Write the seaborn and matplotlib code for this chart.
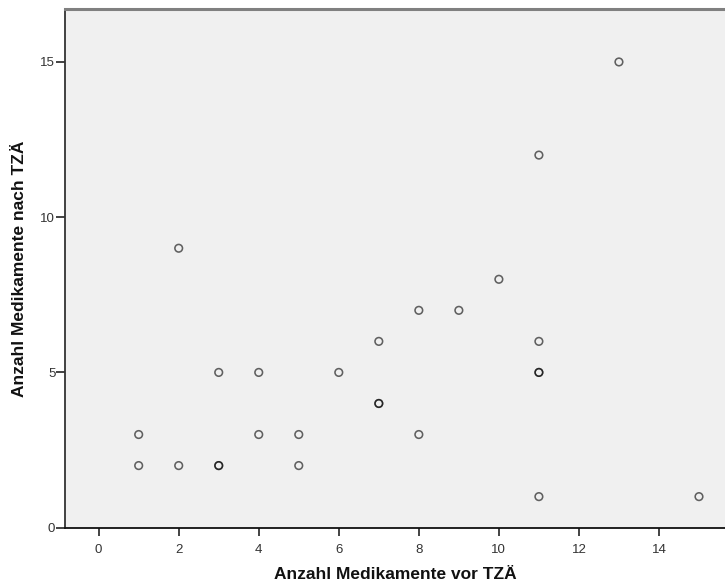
import matplotlib
matplotlib.use("Agg")
import matplotlib.pyplot as plt
import seaborn as sns
import pandas as pd

# Number of medications before and after (paired observations)
vor = [1, 1, 2, 2, 3, 3, 3, 4, 4, 5, 5, 6, 7, 7, 7, 8, 8, 9, 10, 11, 11, 11, 11, 11, 13, 15]
nach = [3, 2, 2, 9, 5, 2, 2, 5, 3, 3, 2, 5, 6, 4, 4, 7, 3, 7, 8, 12, 6, 5, 5, 1, 15, 1]

x_ticks = [0, 2, 4, 6, 8, 10, 12, 14]
y_ticks = [0, 5, 10, 15]

df = pd.DataFrame({"vor": vor, "nach": nach})

sns.set_style("white")
plt.rcParams["font.family"] = ["Liberation Sans", "DejaVu Sans"]

fig = plt.figure(figsize=(7.25, 5.85), dpi=100)
ax = fig.add_axes([0.0897, 0.098, 0.9103, 0.8858])
ax.set_facecolor("#f0f0f0")

sns.scatterplot(data=df, x="vor", y="nach", ax=ax, marker="o", s=30,
                facecolor="none", edgecolor=(0, 0, 0, 0.6),
                linewidth=1.15, legend=False)

ax.set_xlim(-0.84, 15.65)
ax.set_ylim(0, 16.69)
ax.set_xticks(x_ticks)
ax.set_yticks(y_ticks)
ax.tick_params(axis="both", direction="out", width=1.2, color="#222222",
               labelsize=9.5, labelcolor="#333333", left=True, bottom=True)
ax.tick_params(axis="y", length=6.5, pad=0.5)
ax.tick_params(axis="x", length=6, pad=5.5)

for side in ["left", "bottom"]:
    ax.spines[side].set_visible(True)
    ax.spines[side].set_linewidth(1.3)
ax.spines["left"].set_color("#333333")
ax.spines["bottom"].set_color("#111111")
ax.spines["top"].set_visible(True)
ax.spines["top"].set_color("#808080")
ax.spines["top"].set_linewidth(2.2)
ax.spines["right"].set_visible(False)

ax.set_xlabel("Anzahl Medikamente vor TZÄ", fontsize=12.5, fontweight="bold",
              color="#111111", labelpad=8)
ax.set_ylabel("Anzahl Medikamente nach TZÄ", fontsize=12.5, fontweight="bold",
              color="#111111", labelpad=10)

fig.savefig("out.png", dpi=100, facecolor="white")
